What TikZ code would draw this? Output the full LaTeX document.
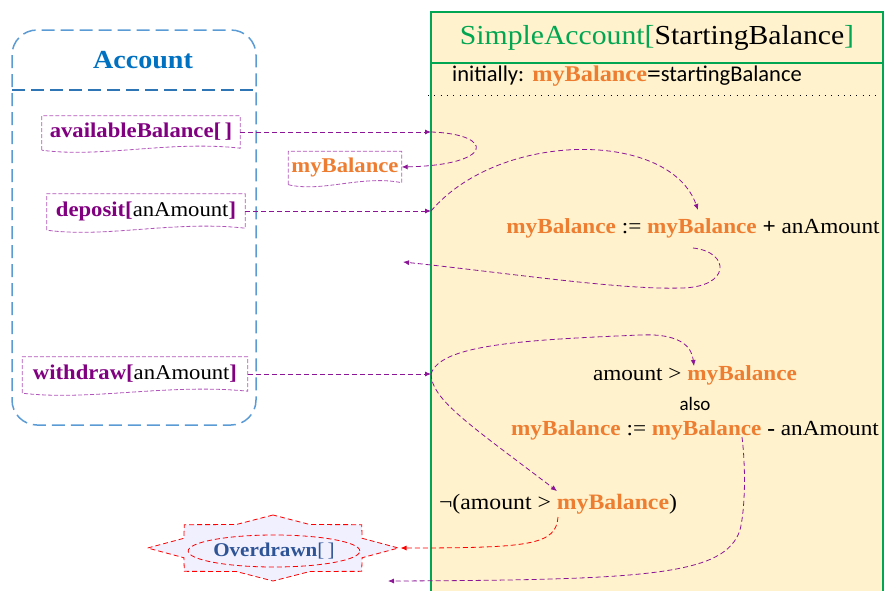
\documentclass[tikz,border=0pt]{standalone}
\usepackage{fontspec}
\setmainfont{Liberation Serif}[FakeStretch=1.08]
\newfontfamily\calib{Carlito}
\usetikzlibrary{calc,arrows.meta,shapes.geometric}

\definecolor{accBlue}{RGB}{91,155,213}
\definecolor{accTitle}{RGB}{0,112,192}
\definecolor{sepBlue}{RGB}{46,117,182}
\definecolor{opPurple}{RGB}{128,0,128}
\definecolor{boxPurple}{RGB}{176,84,186}
\definecolor{connPurple}{RGB}{140,20,150}
\definecolor{orangeC}{RGB}{237,125,49}
\definecolor{greenC}{RGB}{0,166,81}
\definecolor{cream}{RGB}{255,242,204}
\definecolor{overBlue}{RGB}{47,84,150}

\newcommand{\mb}{\textcolor{orangeC}{\bfseries myBalance}}
\newcommand{\docframe}[1]{%
  \draw[docline] ($(#1.south west)+(0,2)$) -- (#1.north west) -- (#1.north east) -- (#1.south east)
    .. controls ($(#1.south east)!0.35!(#1.south west)+(0,-8)$) and ($(#1.south east)!0.7!(#1.south west)+(0,10)$)
    .. ($(#1.south west)+(0,2)$);}

\begin{document}
\begin{tikzpicture}[
                x=1pt, y=-1pt,
                accline/.style={draw=accBlue, line width=1.5pt, dash pattern=on 13pt off 6pt},
                docline/.style={draw=boxPurple, line width=0.8pt, dash pattern=on 4pt off 2pt},
                opbox/.style={inner sep=0pt, font=\fontsize{21}{25}\selectfont, text=opPurple},
                txt/.style={inner sep=1pt, font=\fontsize{21.5}{25}\selectfont},
                conn/.style={draw=connPurple, line width=0.8pt, dash pattern=on 5pt off 3pt,
                    -{Latex[length=6pt,width=5pt]}},
                redconn/.style={conn, draw=red}]
            \useasboundingbox (0,0) rectangle (887,590);
            % Account
            \draw[accline, rounded corners=25pt] (12,30) rectangle (256,425);
            \draw[draw=sepBlue, line width=1.5pt, dash pattern=on 13pt off 6pt] (12,90) -- (256,90);
            \node[txt, font=\fontsize{26}{30}\selectfont\bfseries, text=accTitle] (account) at (143,60) {Account};
            \node[opbox, minimum width=198pt, minimum height=32pt] (availBal) at (141,132)
                {\textbf{availableBalance[\,]}};
            \node[opbox, minimum width=113pt, minimum height=31pt] (myBalOut) at (345,167) {\mb};
            \node[opbox, minimum width=198pt, minimum height=34pt] (depositOp) at (146,211)
                {\textbf{deposit[}\textcolor{black}{anAmount}\textbf{]}};
            \node[opbox, minimum width=225pt, minimum height=34pt] (withdrawOp) at (135,374)
                {\textbf{withdraw[}\textcolor{black}{anAmount}\textbf{]}};
            \docframe{availBal}
            \docframe{myBalOut}
            \docframe{depositOp}
            \docframe{withdrawOp}
            % SimpleAccount
            \draw[draw=greenC, line width=2.4pt, fill=cream] (431,12) rectangle (883,600);
            \draw[draw=greenC, line width=2.4pt] (431,63) -- (883,63);
            \node[txt, font=\fontsize{27.5}{32}\selectfont] (simpleTitle) at (657,38)
                {\textcolor{greenC}{SimpleAccount[}StartingBalance\textcolor{greenC}{]}};
            \node[txt, font=\fontsize{22.5}{26}\selectfont] (initLine) at (627,76)
                {{\calib initially:} \mb\textbf{=}{\calib startingBalance}};
            \draw[line width=1pt, dash pattern=on 0.8pt off 5.5pt] (428,95) -- (880,95);
            \node[txt] (addStep) at (693,228) {\mb{} := \mb{} \textbf{+} anAmount};
            \node[txt] (subGuard) at (695,375) {amount > \mb};
            \node[txt, font=\fontsize{19}{22}\selectfont\calib] (alsoTxt) at (695,404) {also};
            \node[txt] (subStep) at (695,430) {\mb{} := \mb{} \textbf{-} anAmount};
            \node[txt, font=\fontsize{22}{26}\selectfont] (negGuard) at (558,504) {¬(amount > \mb)};
            % Overdrawn
            \node[star, star points=8, star point ratio=1.3, minimum size=66pt, inner sep=0pt,
                xscale=3.8, transform shape, draw=red, line width=0.8pt, dash pattern=on 5pt off 3pt,
                fill=blue!6] (overStar) at (273,548) {};
            \node[ellipse, draw=red, line width=0.8pt, dash pattern=on 5pt off 3pt,
                minimum width=152pt, minimum height=32pt, inner sep=0pt,
                font=\fontsize{19.5}{22}\selectfont, text=overBlue] (overEll) at (274,551)
                {\textbf{Overdrawn}[\,]};
            % junctions and ends
            \coordinate (jAvail) at (431,132);
            \coordinate (jDep) at (431,211);
            \coordinate (jWd) at (431,374);
            \coordinate (addIn) at (698,210);
            \coordinate (addOut) at (693,248);
            \coordinate (retAdd) at (403,262);
            \coordinate (guardIn) at (694,366);
            \coordinate (negIn) at (557,491);
            \coordinate (subOut) at (742,437);
            \coordinate (retSub) at (388,581);
            \coordinate (negOut) at (558,517);
            % connectors
            \draw[conn] (availBal.east) -- (jAvail);
            \draw[conn] (jAvail) .. controls (495,134) and (495,165) .. (myBalOut.east);
            \draw[conn] (depositOp.east) -- (jDep);
            \draw[conn] (jDep) .. controls (500,130) and (670,130) .. (addIn);
            \draw[conn] (addOut) .. controls (731,252) and (731,288) .. (680,288)
                .. controls (620,290) and (500,272) .. (retAdd);
            \draw[conn] (withdrawOp.east) -- (jWd);
            \draw[conn] (jWd) .. controls (440,345) and (520,340) .. (640,335)
                .. controls (685,333) and (692,350) .. (guardIn);
            \draw[conn] (jWd) .. controls (432,400) and (470,425) .. (negIn);
            \draw[conn] (subOut) .. controls (746,470) and (745,510) .. (740,530)
                .. controls (725,575) and (650,580) .. (retSub);
            \draw[redconn] (negOut) .. controls (556,545) and (530,548) .. (overStar.east);
        \end{tikzpicture}
\end{document}
